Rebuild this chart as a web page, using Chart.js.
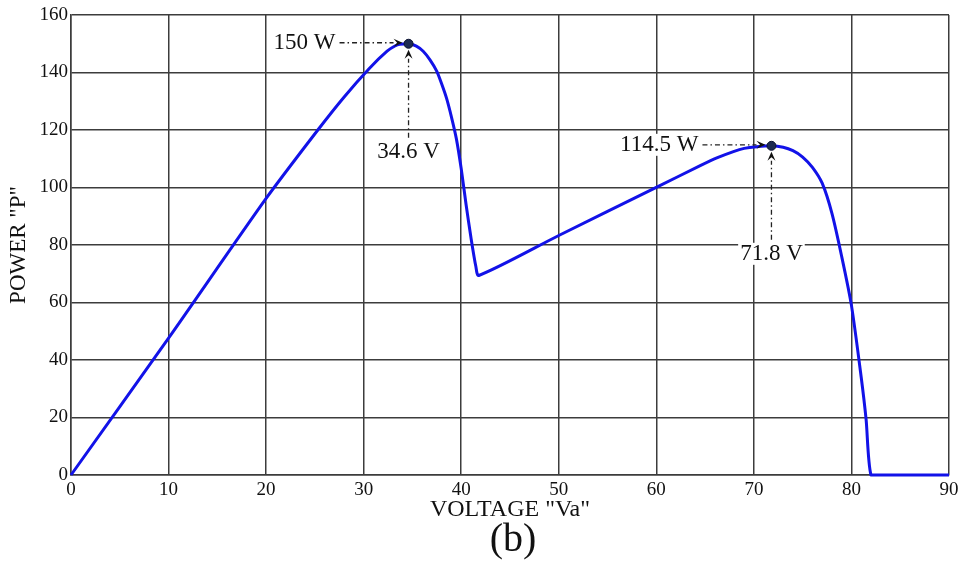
<!DOCTYPE html>
<html>
<head>
<meta charset="utf-8">
<title>P-V curve</title>
<script src="https://cdn.jsdelivr.net/npm/chart.js@4.4.0/dist/chart.umd.min.js"></script>
<style>
  html, body { margin: 0; padding: 0; background: #fff; overflow: hidden; }
</style>
</head>
<body>
<canvas id="pvChart" width="964" height="562"></canvas>
<script>
// ---- P-V curve samples (two local maxima, partial shading) ----
const voltage = [0, 10, 20, 25.3, 28, 30.6, 32.4, 33.2, 33.7, 34.6, 35.4, 36.1, 36.8, 37.5, 38.0, 38.5, 39.0, 39.5, 40.0, 40.5, 41.0, 41.5, 41.8,
                 50, 60.1, 64.5, 66.2, 67.9, 69, 70.3, 71.8, 73, 74, 75, 76, 77, 78, 79, 80, 81, 81.5, 82, 83, 90];
const power   = [0, 47.6, 96.2, 120, 131.5, 141.5, 147.4, 149.2, 149.8, 150, 149.2, 147.4, 144.4, 140.4, 136, 131, 124.5, 117, 106.5, 94, 82.5, 72.5, 69.4,
                 83.3, 100.2, 107.6, 110.3, 112.5, 113.6, 114.2, 114.5, 114.0, 112.8, 110.6, 107.0, 101.5, 91, 76, 59, 34, 19.4, 0, 0, 0];

const xTicks = [0, 10, 20, 30, 40, 50, 60, 70, 80, 90];
const yTicks = [0, 20, 40, 60, 80, 100, 120, 140, 160];

// maximum power points
const peakVolts = [34.6, 71.8];
const peakWatts = [150, 114.5];
const peakWattLabels = ['150 W', '114.5 W'];
const peakVoltLabels = ['34.6 V', '71.8 V'];

const SERIF = '"Liberation Serif", "DejaVu Serif", serif';
const INK = '#111';
const GRID = '#3c3c3c';

// dash-dot leader line ending in a small filled arrowhead
function leader(ctx, x1, y1, x2, y2) {
  const ang = Math.atan2(y2 - y1, x2 - x1);
  const head = 9;
  const c = Math.cos(ang), s = Math.sin(ang);
  ctx.save();
  ctx.strokeStyle = '#222';
  ctx.lineWidth = 1.3;
  ctx.setLineDash([5, 3, 1.5, 3]);
  ctx.beginPath();
  ctx.moveTo(x1, y1);
  ctx.lineTo(x2 - head * c, y2 - head * s);
  ctx.stroke();
  ctx.setLineDash([]);
  ctx.fillStyle = '#111';
  ctx.beginPath();
  ctx.moveTo(x2, y2);
  ctx.lineTo(x2 - head * c + 4 * s, y2 - head * s - 4 * c);
  ctx.lineTo(x2 - 0.6 * head * c, y2 - 0.6 * head * s);
  ctx.lineTo(x2 - head * c - 4 * s, y2 - head * s + 4 * c);
  ctx.closePath();
  ctx.fill();
  ctx.restore();
}

function boxedText(ctx, text, x, y, align) {
  ctx.textAlign = align;
  ctx.textBaseline = 'middle';
  const w = ctx.measureText(text).width;
  const left = align === 'right' ? x - w : align === 'center' ? x - w / 2 : x;
  ctx.fillStyle = '#fff';
  ctx.fillRect(left - 2, y - 11, w + 4, 22);
  ctx.fillStyle = INK;
  ctx.fillText(text, x, y);
}

const peakMarkers = {
  id: 'peakMarkers',
  afterDatasetsDraw(chart) {
    const { ctx, scales: { x, y } } = chart;
    ctx.save();
    ctx.font = '23px ' + SERIF;
    peakVolts.forEach((v, i) => {
      const px = x.getPixelForValue(v);
      const py = y.getPixelForValue(peakWatts[i]);

      // power label to the left
      boxedText(ctx, peakWattLabels[i], px - 73, py - 1, 'right');
      leader(ctx, px - 69, py - 1, px - 6, py - 1);

      // voltage label below
      boxedText(ctx, peakVoltLabels[i], px, py + 108, 'center');
      leader(ctx, px, py + 94, px, py + 6);

      // marker dot
      ctx.beginPath();
      ctx.arc(px, py, 4.5, 0, Math.PI * 2);
      ctx.fillStyle = '#1d2b52';
      ctx.fill();
      ctx.lineWidth = 1;
      ctx.strokeStyle = '#0b1230';
      ctx.stroke();
    });
    ctx.restore();
  }
};

// sub-figure caption under the x axis title
const caption = {
  id: 'caption',
  afterDraw(chart) {
    const { ctx, chartArea } = chart;
    ctx.save();
    ctx.font = '40px ' + SERIF;
    ctx.fillStyle = INK;
    ctx.textAlign = 'center';
    ctx.textBaseline = 'middle';
    ctx.fillText('(b)', (chartArea.left + chartArea.right) / 2 + 3, 540);
    ctx.restore();
  }
};

new Chart(document.getElementById('pvChart').getContext('2d'), {
  type: 'line',
  data: {
    datasets: [{
      data: voltage.map((v, i) => ({ x: v, y: power[i] })),
      borderColor: '#1212e8',
      borderWidth: 3,
      borderJoinStyle: 'round',
      pointRadius: 0,
      tension: 0.25,
      fill: false,
      clip: 6
    }]
  },
  options: {
    responsive: false,
    devicePixelRatio: 1,
    animation: false,
    layout: { padding: { top: 15, right: 15, left: 0, bottom: 38 } },
    plugins: {
      legend: { display: false },
      tooltip: { enabled: false }
    },
    scales: {
      x: {
        type: 'linear',
        min: 0, max: 90,
        afterBuildTicks: s => { s.ticks = xTicks.map(v => ({ value: v })); },
        afterFit: s => { s.height = 49; s.paddingLeft = 0; s.paddingRight = 0; },
        grid: { color: GRID, lineWidth: 1.5, drawTicks: false },
        border: { color: GRID, width: 1.5 },
        ticks: { color: INK, padding: 4, font: { family: SERIF, size: 19 }, maxRotation: 0 },
        title: {
          display: true,
          text: 'VOLTAGE "Va"',
          color: INK,
          font: { family: SERIF, size: 24 },
          padding: { top: 0, bottom: 0 }
        }
      },
      y: {
        min: 0, max: 160,
        afterBuildTicks: s => { s.ticks = yTicks.map(v => ({ value: v })); },
        afterFit: s => { s.width = 71; },
        grid: { color: GRID, lineWidth: 1.5, drawTicks: false },
        border: { color: GRID, width: 1.5 },
        ticks: { color: INK, padding: 3, font: { family: SERIF, size: 19 } },
        title: {
          display: true,
          text: 'POWER "P"',
          color: INK,
          font: { family: SERIF, size: 23 },
          padding: { top: 5, bottom: 0 }
        }
      }
    }
  },
  plugins: [peakMarkers, caption]
});
</script>
</body>
</html>
